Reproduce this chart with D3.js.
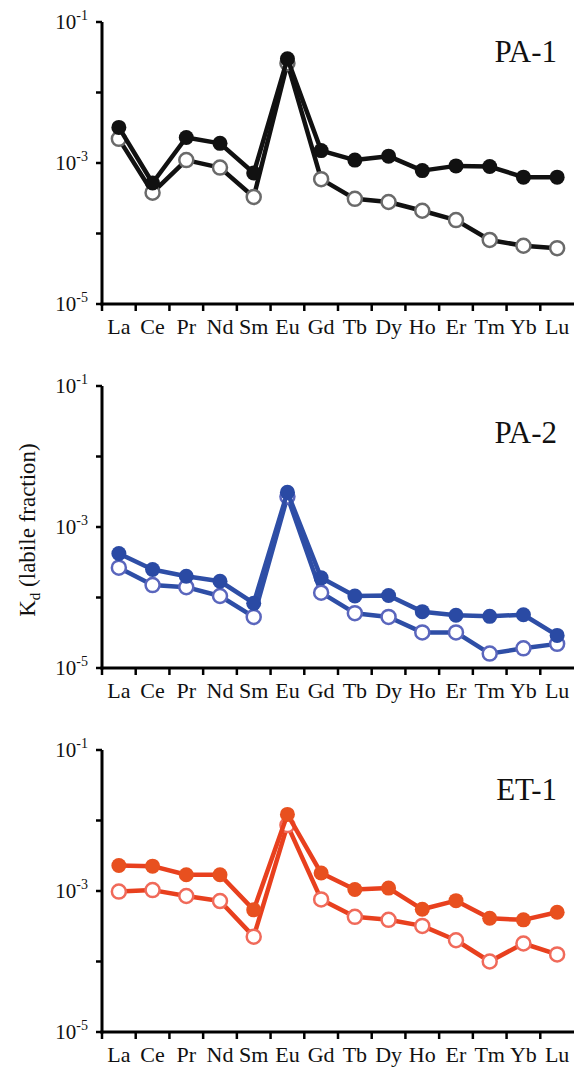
<!DOCTYPE html>
<html>
<head>
<meta charset="utf-8">
<script src="https://cdn.jsdelivr.net/npm/d3@7"></script>
<style>
  body { margin: 0; background: #fff; }
  svg { display: block; font-family: "Liberation Serif", "Times New Roman", serif; }
</style>
</head>
<body>
<svg id="chart" width="576" height="1068"></svg>
<script>
const elements = ["La", "Ce", "Pr", "Nd", "Sm", "Eu", "Gd", "Tb", "Dy", "Ho", "Er", "Tm", "Yb", "Lu"];
const yTicks = [1e-1, 1e-2, 1e-3, 1e-4, 1e-5];
const yLabels = [-1, -3, -5];

// PA-1
const pa1Filled = [3.2e-3, 5.2e-4, 2.3e-3, 1.9e-3, 7.2e-4, 3.0e-2, 1.5e-3, 1.1e-3, 1.25e-3, 7.8e-4, 9.1e-4, 8.9e-4, 6.3e-4, 6.3e-4];
const pa1Open = [2.2e-3, 3.8e-4, 1.1e-3, 8.6e-4, 3.3e-4, 2.6e-2, 5.9e-4, 3.1e-4, 2.8e-4, 2.1e-4, 1.55e-4, 8.1e-5, 6.7e-5, 6.2e-5];
// PA-2
const pa2Filled = [4.2e-4, 2.5e-4, 2.0e-4, 1.7e-4, 8.3e-5, 3.1e-3, 1.9e-4, 1.05e-4, 1.07e-4, 6.3e-5, 5.6e-5, 5.4e-5, 5.7e-5, 2.9e-5];
const pa2Open = [2.65e-4, 1.5e-4, 1.4e-4, 1.05e-4, 5.3e-5, 2.7e-3, 1.17e-4, 6.0e-5, 5.3e-5, 3.2e-5, 3.2e-5, 1.6e-5, 1.9e-5, 2.2e-5];
// ET-1
const et1Filled = [2.3e-3, 2.25e-3, 1.7e-3, 1.7e-3, 5.4e-4, 1.22e-2, 1.8e-3, 1.05e-3, 1.1e-3, 5.5e-4, 7.3e-4, 4.1e-4, 3.9e-4, 5.0e-4];
const et1Open = [9.8e-4, 1.03e-3, 8.5e-4, 7.2e-4, 2.25e-4, 8.6e-3, 7.6e-4, 4.3e-4, 3.9e-4, 3.2e-4, 2.0e-4, 1.0e-4, 1.8e-4, 1.26e-4];

const panels = [
  { name: "PA-1", top: 22, labelDy: 40, filled: pa1Filled, open: pa1Open,
    line: "#111", fill: "#111", openStroke: "#6a6a6a" },
  { name: "PA-2", top: 386, labelDy: 57, filled: pa2Filled, open: pa2Open,
    line: "#2e4ea6", fill: "#2a4aa4", openStroke: "#5a66bd" },
  { name: "ET-1", top: 750, labelDy: 50, filled: et1Filled, open: et1Open,
    line: "#e8401e", fill: "#e8501f", openStroke: "#f06a5a" }
];

const svg = d3.select("#chart");
const H = 282;
const x = d3.scaleBand().domain(elements).range([102, 574]).padding(0);
const cx = d => x(d) + x.bandwidth() / 2;

panels.forEach(p => {
  const y = d3.scaleLog().domain([1e-5, 1e-1]).range([p.top + H, p.top]);
  const g = svg.append("g");

  // axes
  g.append("line")
    .attr("x1", 102).attr("x2", 102)
    .attr("y1", y(1e-1)).attr("y2", y(1e-5) + 1.5)
    .attr("stroke", "#000").attr("stroke-width", 3);
  g.append("line")
    .attr("x1", 100.5).attr("x2", 574)
    .attr("y1", y(1e-5)).attr("y2", y(1e-5))
    .attr("stroke", "#000").attr("stroke-width", 3);

  g.selectAll(".ytick").data(yTicks).enter().append("line")
    .attr("x1", 96).attr("x2", 102)
    .attr("y1", d => y(d)).attr("y2", d => y(d))
    .attr("stroke", "#000").attr("stroke-width", 2.5);

  const yl = g.selectAll(".ylab").data(yLabels).enter().append("text")
    .attr("x", 88).attr("y", d => y(Math.pow(10, d)) + 7)
    .attr("text-anchor", "end")
    .attr("font-size", 21).attr("fill", "#111");
  yl.append("tspan").text("10");
  yl.append("tspan").attr("dy", -9).attr("font-size", 14).text(d => d);

  const bounds = elements.map(d => x(d));
  g.selectAll(".xtick").data(bounds).enter().append("line")
    .attr("x1", d => d).attr("x2", d => d)
    .attr("y1", y(1e-5)).attr("y2", y(1e-5) + 7)
    .attr("stroke", "#000").attr("stroke-width", 2.5);

  g.selectAll(".xlab").data(elements).enter().append("text")
    .attr("x", d => cx(d)).attr("y", y(1e-5) + 30)
    .attr("text-anchor", "middle")
    .attr("font-size", 22).attr("fill", "#111")
    .text(d => d);

  g.append("text")
    .attr("x", 557).attr("y", p.top + p.labelDy)
    .attr("text-anchor", "end")
    .attr("font-size", 31).attr("fill", "#111")
    .text(p.name);

  const line = d3.line().x((d, i) => cx(elements[i])).y(d => y(d));

  // open series first, filled on top
  g.append("path").datum(p.open)
    .attr("d", line).attr("fill", "none")
    .attr("stroke", p.line).attr("stroke-width", 4.5).attr("stroke-linejoin", "round");
  g.selectAll(".openpt").data(p.open).enter().append("circle")
    .attr("cx", (d, i) => cx(elements[i])).attr("cy", d => y(d)).attr("r", 7)
    .attr("fill", "#fff").attr("stroke", p.openStroke).attr("stroke-width", 2.5);

  g.append("path").datum(p.filled)
    .attr("d", line).attr("fill", "none")
    .attr("stroke", p.line).attr("stroke-width", 4.5).attr("stroke-linejoin", "round");
  g.selectAll(".fillpt").data(p.filled).enter().append("circle")
    .attr("cx", (d, i) => cx(elements[i])).attr("cy", d => y(d)).attr("r", 7.5)
    .attr("fill", p.fill);
});

// y-axis title
const t = svg.append("text")
  .attr("transform", "translate(35,530) rotate(-90)")
  .attr("text-anchor", "middle")
  .attr("font-size", 23).attr("fill", "#111");
t.append("tspan").text("K");
t.append("tspan").attr("font-size", 15).attr("dy", 5).text("d");
t.append("tspan").attr("dy", -5).text(" (labile fraction)");
</script>
</body>
</html>
